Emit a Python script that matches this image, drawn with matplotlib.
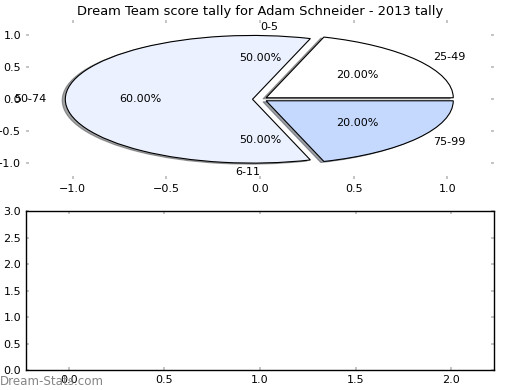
import matplotlib
matplotlib.use("Agg")
import matplotlib.pyplot as plt

title = "Dream Team score tally for Adam Schneider - 2013 tally"
main_labels = ["25-49", "50-74", "75-99"]
main_values = [20, 60, 20]
main_colors = ["#FFFFFF", "#EBF1FE", "#C5D9FF"]
side_labels = ["0-5", "6-11"]
side_values = [1, 1]
top_ticks = [-1.0, -0.5, 0.0, 0.5, 1.0]
bottom_xticks = [0.0, 0.5, 1.0, 1.5, 2.0]
bottom_yticks = [0.0, 0.5, 1.0, 1.5, 2.0, 2.5, 3.0]

plt.rcParams['font.family'] = ['DejaVu Sans']
plt.rcParams['font.size'] = 8

fig = plt.figure(figsize=(5.2, 3.9), dpi=100)
fig.subplots_adjust(left=0.05, right=0.95, bottom=0.05, top=0.95, hspace=0.2)
ax1 = fig.add_subplot(2, 1, 1)
ax2 = fig.add_subplot(2, 1, 2)

tick_kw = dict(direction='in', length=2.5, width=1.2, color='#BBBBBB',
               top=True, right=True, labelsize=8)

ax1.pie(main_values, labels=main_labels, colors=main_colors,
        explode=[0.04] * len(main_values), autopct='%.2f%%',
        shadow={'ox': -0.012, 'oy': -0.012},
        frame=True, wedgeprops=dict(edgecolor='black', linewidth=0.8),
        textprops=dict(fontsize=8))
_, side_texts, _ = ax1.pie(side_values, labels=side_labels,
                           explode=[0.04] * len(side_values),
                           autopct='%.2f%%', frame=True,
                           wedgeprops=dict(fill=False, linewidth=0, edgecolor='none'),
                           textprops=dict(fontsize=8))
side_texts[0].set_ha('left')
side_texts[1].set_ha('right')
ax1.set_aspect('auto')
ax1.set_xlim(-1.25, 1.25)
ax1.set_ylim(-1.25, 1.25)
ax1.set_xticks(top_ticks)
ax1.set_yticks(top_ticks)
ax1.set_xticklabels(["%.1f" % t if t >= 0 else "\u2212%.1f" % -t for t in top_ticks])
ax1.set_yticklabels(["%.1f" % t if t >= 0 else "\u2212%.1f" % -t for t in top_ticks])
for s in ax1.spines.values():
    s.set_visible(False)
ax1.tick_params(**tick_kw)
ax1.set_title(title, fontsize=9.4, pad=3)

ax2.set_xlim(-0.225, 2.225)
ax2.set_ylim(0, 3.0)
ax2.set_xticks(bottom_xticks)
ax2.set_yticks(bottom_yticks)
ax2.tick_params(**tick_kw)
for s in ax2.spines.values():
    s.set_color('black')
    s.set_linewidth(1.0)

fig.text(0.0, 0.005, "Dream-Stats.com", color='#858585', fontsize=8.6,
         ha='left', va='bottom')

fig.savefig("out.png", dpi=100)
